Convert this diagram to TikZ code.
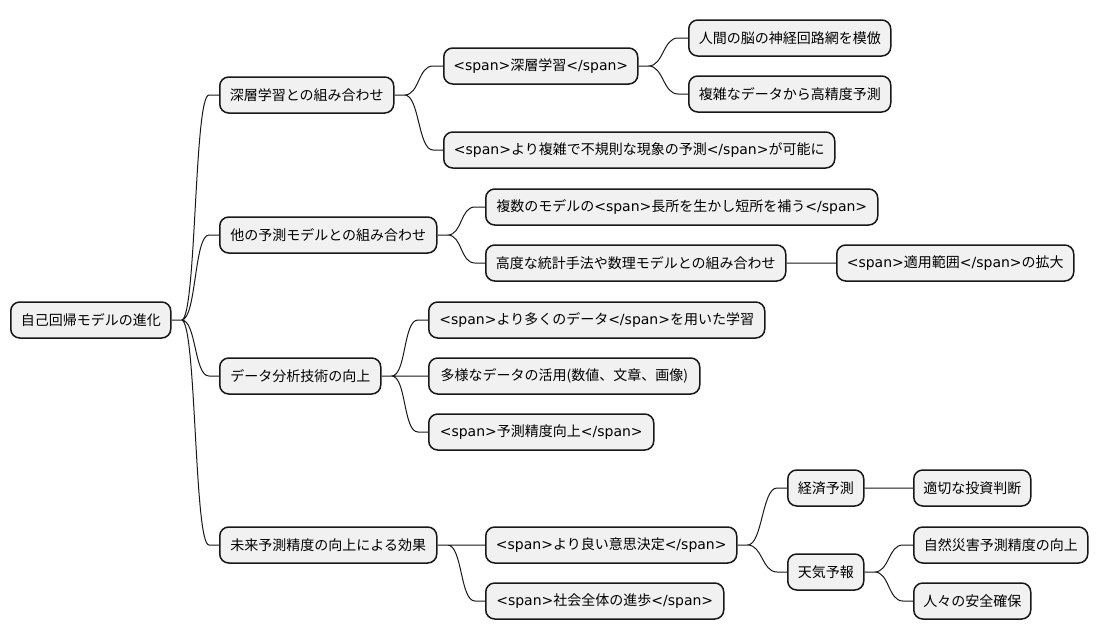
\documentclass[tikz,border=0pt]{standalone}
\usepackage{fontspec}
\setmainfont{Noto Sans CJK JP}
\newfontfamily\latfont{DejaVu Sans}
\definecolor{boxfill}{HTML}{F1F1F1}
\definecolor{boxline}{HTML}{181818}
\begin{document}
\begin{tikzpicture}[x=1pt, y=-1pt,
	box/.style={draw=boxline, fill=boxfill, line width=1.5pt, rounded corners=9pt, anchor=west,
		minimum height=36pt, inner xsep=2pt, font=\fontsize{14}{16}\selectfont},
	link/.style={boxline, line width=1pt,
		to path={-- ++(10,0) .. controls +(15,0) and +(-15,0) .. ([xshift=-10pt]\tikztotarget) -- (\tikztotarget)}}]
	\useasboundingbox (0,0) rectangle (1097,640);
	\node[box, minimum width=160] (root) at (10,320) {自己回帰モデルの進化};
	% first level
	\node[box, minimum width=174] (deep) at (219,95) {深層学習との組み合わせ};
	\node[box, minimum width=217] (other) at (219,235) {他の予測モデルとの組み合わせ};
	\node[box, minimum width=161] (data) at (219,376) {データ分析技術の向上};
	\node[box, minimum width=217] (future) at (219,545) {未来予測精度の向上による効果};
	% deep learning
	\node[box, minimum width=194] (dl) at (443,66) {{\latfont <span>}深層学習{\latfont </span>}};
	\node[box, minimum width=391] (complex) at (443,150) {{\latfont <span>}より複雑で不規則な現象の予測{\latfont </span>}が可能に};
	\node[box, minimum width=202] (brain) at (688,38) {人間の脳の神経回路網を模倣};
	\node[box, minimum width=202] (precise) at (688,94) {複雑なデータから高精度予測};
	% other models
	\node[box, minimum width=392] (merit) at (485,207) {複数のモデルの{\latfont <span>}長所を生かし短所を補う{\latfont </span>}};
	\node[box, minimum width=300] (stat) at (485,263) {高度な統計手法や数理モデルとの組み合わせ};
	\node[box, minimum width=237] (scope) at (836,263) {{\latfont <span>}適用範囲{\latfont </span>}の拡大};
	% data analysis
	\node[box, minimum width=336] (more) at (428,320) {{\latfont <span>}より多くのデータ{\latfont </span>}を用いた学習};
	\node[box, minimum width=271] (variety) at (428,376) {多様なデータの活用(数値、文章、画像)};
	\node[box, minimum width=225] (accuracy) at (428,432) {{\latfont <span>}予測精度向上{\latfont </span>}};
	% effects
	\node[box, minimum width=251] (decision) at (485,545) {{\latfont <span>}より良い意思決定{\latfont </span>}};
	\node[box, minimum width=238] (society) at (485,601) {{\latfont <span>}社会全体の進歩{\latfont </span>}};
	\node[box, minimum width=76] (economy) at (787,488) {経済予測};
	\node[box, minimum width=76] (weather) at (787,572) {天気予報};
	\node[box, minimum width=117] (invest) at (913,488) {適切な投資判断};
	\node[box, minimum width=174] (disaster) at (913,545) {自然災害予測精度の向上};
	\node[box, minimum width=117] (safety) at (913,601) {人々の安全確保};
	% branches
	\draw[link] (root.east) to (deep.west) (root.east) to (other.west)
		(root.east) to (data.west) (root.east) to (future.west);
	\draw[link] (deep.east) to (dl.west) (deep.east) to (complex.west)
		(dl.east) to (brain.west) (dl.east) to (precise.west);
	\draw[link] (other.east) to (merit.west) (other.east) to (stat.west) (stat.east) to (scope.west);
	\draw[link] (data.east) to (more.west) (data.east) to (variety.west) (data.east) to (accuracy.west);
	\draw[link] (future.east) to (decision.west) (future.east) to (society.west)
		(decision.east) to (economy.west) (decision.east) to (weather.west);
	\draw[link] (economy.east) to (invest.west) (weather.east) to (disaster.west) (weather.east) to (safety.west);
\end{tikzpicture}
\end{document}
